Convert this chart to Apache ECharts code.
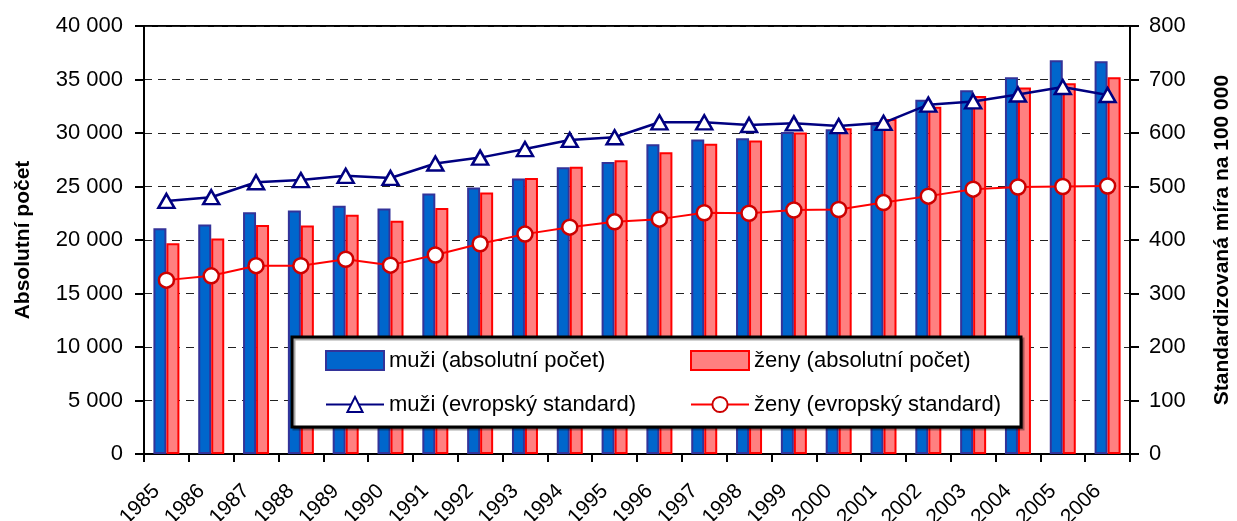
<!DOCTYPE html>
<html lang="cs">
<head>
<meta charset="UTF-8">
<title>Absolutní počet a standardizovaná míra</title>
<script src="https://cdn.jsdelivr.net/npm/echarts@6/dist/echarts.min.js"></script>
<style>
html,body{margin:0;padding:0;background:#fff;}
#main{width:1237px;height:521px;}
</style>
</head>
<body>
<div id="main"></div>
<script>
// data
var years = ['1985','1986','1987','1988','1989','1990','1991','1992','1993','1994','1995',
             '1996','1997','1998','1999','2000','2001','2002','2003','2004','2005','2006'];
var muziAbs = [21100,21450,22600,22750,23200,22950,24350,24900,25750,26800,27300,
               28950,29400,29500,30100,30350,30850,33100,34000,35200,36800,36700];
var zenyAbs = [19700,20150,21400,21350,22350,21800,23000,24450,25800,26850,27450,
               28200,29000,29300,30050,30450,31300,32450,33450,34250,34650,35200];
var muziStd = [473,480,508,512,520,516,543,554,570,587,592,
               620,620,615,618,613,619,653,659,672,686,671];
var zenyStd = [325,333,352,352,364,353,372,393,411,424,434,
               439,451,450,456,457,470,482,495,499,500,501];

var FONT = '"Liberation Sans Narrow", "Arial Narrow", "Liberation Sans", Arial, sans-serif';
var FONT_B = '"Liberation Sans", Arial, sans-serif';

function thousands(v){
    return String(v).replace(/\B(?=(\d{3})+(?!\d))/g, ' ');
}

var myChart = echarts.init(document.getElementById('main'));

var option = {
    animation: false,
    backgroundColor: '#fff',
    grid: {
        left: 144, right: 107, top: 26, bottom: 67,
        outerBoundsMode: 'none',
        containLabel: false,
        show: true, borderColor: '#000', borderWidth: 2
    },
    graphic: [{
        type: 'rect',
        z: 50,
        shape: {x: 292, y: 337, width: 729, height: 90},
        style: {fill: '#fff', stroke: '#000', lineWidth: 3,
                shadowColor: 'rgba(0,0,0,0.35)', shadowOffsetX: 2, shadowOffsetY: 2, shadowBlur: 0}
    }],
    legend: [{
        z: 100,
        orient: 'vertical',
        left: 320, top: 343,
        itemWidth: 58, itemHeight: 19, itemGap: 19,
        textStyle: {fontFamily: FONT, fontSize: 22, color: '#000', lineHeight: 25},
        data: [
            {name: 'muži (absolutní počet)', icon: 'rect',
             itemStyle: {color: '#0066CC', borderColor: '#333399', borderWidth: 2}},
            {name: 'muži (evropský standard)'}
        ]
    }, {
        z: 100,
        orient: 'vertical',
        left: 685, top: 343,
        itemWidth: 58, itemHeight: 19, itemGap: 19,
        textStyle: {fontFamily: FONT, fontSize: 22, color: '#000', lineHeight: 25},
        data: [
            {name: 'ženy (absolutní počet)', icon: 'rect',
             itemStyle: {color: '#FF8080', borderColor: '#FF0000', borderWidth: 2}},
            {name: 'ženy (evropský standard)'}
        ]
    }],
    xAxis: {
        type: 'category',
        data: years,
        boundaryGap: true,
        axisLine: {lineStyle: {color: '#000', width: 2}},
        axisTick: {show: true, length: 8, lineStyle: {color: '#000', width: 2}},
        axisLabel: {rotate: 45, margin: 24, padding: [0, 14, 0, 0],
                    fontFamily: FONT, fontSize: 21, color: '#000', interval: 0}
    },
    yAxis: [{
        type: 'value',
        min: 0, max: 40000, interval: 5000,
        name: 'Absolutní počet',
        nameLocation: 'middle',
        nameGap: 110,
        nameTextStyle: {fontFamily: FONT_B, fontSize: 21, fontWeight: 'bold', color: '#000'},
        axisLine: {show: true, lineStyle: {color: '#000', width: 2}},
        axisTick: {show: true, length: 9, lineStyle: {color: '#000', width: 2}},
        axisLabel: {margin: 21, fontFamily: FONT, fontSize: 22, color: '#000', formatter: thousands},
        splitLine: {show: true, lineStyle: {color: '#222', width: 1, type: [8, 6]}}
    }, {
        type: 'value',
        min: 0, max: 800, interval: 100,
        position: 'right',
        name: 'Standardizovaná míra na 100 000',
        nameLocation: 'middle',
        nameRotate: 90,
        nameGap: 82,
        nameTextStyle: {fontFamily: FONT_B, fontSize: 21, fontWeight: 'bold', color: '#000'},
        axisLine: {show: true, lineStyle: {color: '#000', width: 2}},
        axisTick: {show: true, length: 9, lineStyle: {color: '#000', width: 2}},
        axisLabel: {margin: 19, fontFamily: FONT, fontSize: 22, color: '#000'},
        splitLine: {show: false}
    }],
    series: [{
        name: 'muži (absolutní počet)',
        type: 'bar',
        barWidth: 13,
        barGap: '0%',
        itemStyle: {color: '#0066CC', borderColor: '#333399', borderWidth: 2},
        data: muziAbs
    }, {
        name: 'ženy (absolutní počet)',
        type: 'bar',
        barWidth: 13,
        barGap: '0%',
        itemStyle: {color: '#FF8080', borderColor: '#FF0000', borderWidth: 2},
        data: zenyAbs
    }, {
        name: 'muži (evropský standard)',
        type: 'line',
        yAxisIndex: 1,
        symbol: 'triangle',
        symbolSize: [16, 14],
        lineStyle: {color: '#000080', width: 2.5},
        itemStyle: {color: '#fff', borderColor: '#000080', borderWidth: 2.5},
        z: 5,
        data: muziStd
    }, {
        name: 'ženy (evropský standard)',
        type: 'line',
        yAxisIndex: 1,
        symbol: 'circle',
        symbolSize: 15,
        lineStyle: {color: '#FF0000', width: 2},
        itemStyle: {color: '#fff', borderColor: '#CC0000', borderWidth: 2.5},
        z: 5,
        data: zenyStd
    }]
};

if (option && typeof option === 'object') {
    myChart.setOption(option);
}
</script>
</body>
</html>
